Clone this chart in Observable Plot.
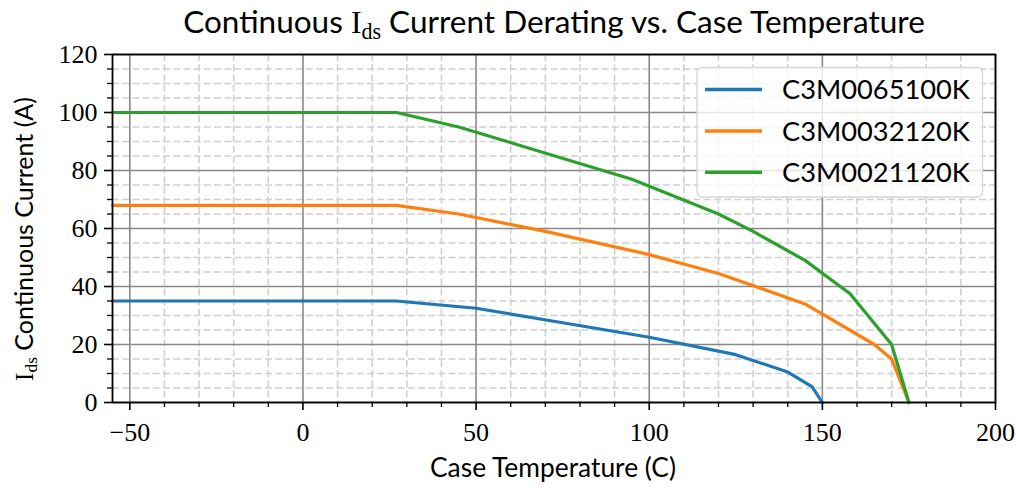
<!DOCTYPE html>
<html><head><meta charset="utf-8">
<script src="https://cdn.jsdelivr.net/npm/d3@7"></script>
<script src="https://cdn.jsdelivr.net/npm/@observablehq/plot@0.6"></script>
<style>
html,body{margin:0;padding:0;background:#fff;}
#chart{width:1016px;height:488px;}
</style>
</head><body>
<div id="chart"></div>
<script>
// ---- data ----
const devices = ["C3M0065100K", "C3M0032120K", "C3M0021120K"];
const colors = ["#1f77b4", "#ff7f0e", "#2ca02c"];

const temp_65100 = [-55, 27, 50, 75, 100, 125, 140, 147, 150];
const amps_65100 = [35, 35, 32.5, 27.5, 22.5, 16.5, 10.5, 5.5, 0];

const temp_32120 = [-55, 27, 45, 70, 100, 120, 145, 165, 170, 175];
const amps_32120 = [68, 68, 65, 59, 51, 44.5, 34, 20, 15, 0];

const temp_21120 = [-55, 27, 45, 95, 120, 130, 145, 158, 170, 175];
const amps_21120 = [100, 100, 95, 77, 65, 59, 49, 37.5, 20, 0];

const xTicks = [-50, 0, 50, 100, 150, 200];
const yTicks = [0, 20, 40, 60, 80, 100, 120];
const xMinor = d3.range(-50, 201, 10).filter(v => !xTicks.includes(v));
const yMinor = d3.range(0, 121, 5).filter(v => !yTicks.includes(v));

const titleMain = ["Continuous ", "I", "ds", " Current Derating vs. Case Temperature"];
const xLabel = "Case Temperature (C)";
const yLabel = ["I", "ds", " Continuous Current (A)"];

// ---- table ----
const series = [[temp_65100, amps_65100], [temp_32120, amps_32120], [temp_21120, amps_21120]];
const rows = series.flatMap(([t, a], k) => t.map((v, i) => ({device: devices[k], t: v, i: a[i]})));

const SANS = "Lato, 'Open Sans', sans-serif";
const SERIF = "'Liberation Serif', 'DejaVu Serif', serif";

const plot = Plot.plot({
  width: 1016, height: 488,
  marginTop: 54, marginBottom: 86, marginLeft: 112, marginRight: 21,
  style: {fontFamily: SERIF, fontSize: "26px", background: "#fff", color: "#000"},
  x: {domain: [-55, 200]},
  y: {domain: [0, 120]},
  color: {domain: devices, range: colors},
  marks: [
    Plot.gridX(xMinor, {stroke: "#d0d0d0", strokeOpacity: 1, strokeWidth: 1.6, strokeDasharray: "7,3.2"}),
    Plot.gridY(yMinor, {stroke: "#d0d0d0", strokeOpacity: 1, strokeWidth: 1.6, strokeDasharray: "7,3.2"}),
    Plot.gridX(xTicks, {stroke: "#888888", strokeOpacity: 1, strokeWidth: 1.6}),
    Plot.gridY(yTicks, {stroke: "#888888", strokeOpacity: 1, strokeWidth: 1.6}),
    Plot.line(rows, {x: "t", y: "i", z: "device", stroke: "device", strokeWidth: 3.2, strokeLinejoin: "miter"}),
    Plot.frame({stroke: "#000", strokeWidth: 1.8}),
    Plot.axisX(xMinor, {tickSize: 5, tickFormat: () => "", strokeWidth: 1.3, label: null}),
    Plot.axisY(yMinor, {tickSize: 5, tickFormat: () => "", strokeWidth: 1.3, label: null}),
    Plot.axisX(xTicks, {tickSize: 8, tickPadding: 12, strokeWidth: 1.6, label: null}),
    Plot.axisY(yTicks, {tickSize: 8, tickPadding: 7, strokeWidth: 1.6, label: null})
  ]
});
document.getElementById("chart").appendChild(plot);

const svg = d3.select(plot);

function fitText(sel, target, base) {
  const w = sel.node().getComputedTextLength();
  if (w > 0) sel.attr("font-size", base * target / w);
}

// Title
{
  const t = svg.append("text").attr("x", 554).attr("y", 33).attr("text-anchor", "middle")
    .attr("font-family", SANS).attr("font-size", 26).attr("fill", "#000");
  t.append("tspan").text(titleMain[0]);
  t.append("tspan").attr("font-family", SERIF).text(titleMain[1]);
  t.append("tspan").attr("font-family", SERIF).attr("font-size", "0.7em").attr("dy", "0.25em").text(titleMain[2]);
  t.append("tspan").attr("dy", "-0.18em").text(titleMain[3]);
  fitText(t, 742, 26);
}
// X label
{
  const t = svg.append("text").attr("x", 553).attr("y", 477).attr("text-anchor", "middle")
    .attr("font-family", SANS).attr("font-size", 22).attr("fill", "#000").text(xLabel);
  fitText(t, 246, 22);
}
// Y label
{
  const t = svg.append("text").attr("transform", "translate(33,239) rotate(-90)").attr("text-anchor", "middle")
    .attr("font-family", SANS).attr("font-size", 22).attr("fill", "#000");
  t.append("tspan").attr("font-family", SERIF).text(yLabel[0]);
  t.append("tspan").attr("font-family", SERIF).attr("font-size", "0.7em").attr("dy", "0.25em").text(yLabel[1]);
  t.append("tspan").attr("dy", "-0.18em").text(yLabel[2]);
  fitText(t, 284, 22);
}
// Legend
{
  const g = svg.append("g");
  g.append("rect").attr("x", 697).attr("y", 67.5).attr("width", 285.5).attr("height", 129.5)
    .attr("rx", 5).attr("fill", "#fff").attr("fill-opacity", 0.8).attr("stroke", "#d6d6d6").attr("stroke-width", 1.3);
  const ys = [89.5, 131, 172.3];
  devices.forEach((d, k) => {
    g.append("line").attr("x1", 705).attr("x2", 762).attr("y1", ys[k]).attr("y2", ys[k])
      .attr("stroke", colors[k]).attr("stroke-width", 3.4);
    const t = g.append("text").attr("x", 782).attr("y", ys[k]).attr("dy", "0.36em")
      .attr("text-anchor", "start")
      .attr("font-family", SANS).attr("font-size", 23).attr("fill", "#000").text(d);
    fitText(t, 188, 23);
  });
}
</script>
</body></html>
